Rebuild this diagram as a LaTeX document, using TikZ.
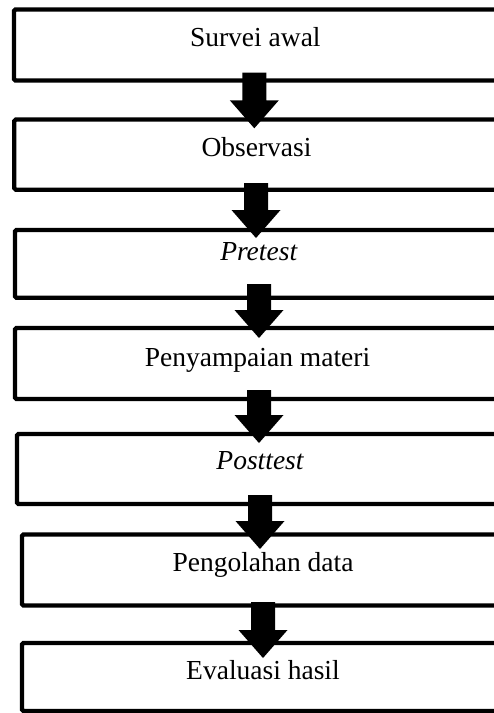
\documentclass[tikz,border=0pt]{standalone}
\usepackage{fontspec}
\setmainfont{Liberation Serif}
\usetikzlibrary{calc}
\newcommand\flowarrow[2]{%
  \fill let \p1=(#1), \p2=(#2) in
    (\x1-12pt,\y1) -- (\x1-12pt,\y2+28pt) -- (\x1-24.5pt,\y2+28pt) -- (\x1,\y2)
    -- (\x1+24.5pt,\y2+28pt) -- (\x1+12pt,\y2+28pt) -- (\x1+12pt,\y1) -- cycle;}
\begin{document}
\begin{tikzpicture}[x=1pt,y=-1pt,
  box/.style={draw, line width=4.3pt, rounded corners=1.5pt, outer sep=0pt,
    inner sep=0pt, anchor=north west, minimum width=520pt, minimum height=#1},
  lbl/.style={anchor=base, inner sep=0pt, font=\fontsize{27.5}{33}\selectfont}]
\useasboundingbox (0,0) rectangle (494,713);
\clip (0,0) rectangle (494,713);
% boxes
\node[box=71pt]   (b1) at (14,9.5) {};
\node[box=70.2pt] (b2) at (14.3,119.5) {};
\node[box=67.8pt] (b3) at (15,230) {};
\node[box=71pt]   (b4) at (15,328) {};
\node[box=70pt]   (b5) at (17,434) {};
\node[box=71pt]   (b6) at (22,534.5) {};
\node[box=68pt]   (b7) at (22,643) {};
% labels
\node[lbl] (t1) at (255.3,46.7) {Survei awal};
\node[lbl] (t2) at (256.5,156.7) {Observasi};
\node[lbl] (t3) at (258.7,260) {\itshape Pretest};
\node[lbl] (t4) at (257.5,366.7) {Penyampaian materi};
\node[lbl] (t5) at (260,469.3) {\itshape Posttest};
\node[lbl] (t6) at (263,571.7) {Pengolahan data};
\node[lbl] (t7) at (263,679.3) {Evaluasi hasil};
% arrow end points
\coordinate (a1s) at ($(b1.south west)+(240.3,-7.8)$);
\coordinate (a1e) at ($(b2.north west)+(240,8.8)$);
\coordinate (a2s) at ($(b2.south west)+(241.7,-6.7)$);
\coordinate (a2e) at ($(b3.north west)+(241,8)$);
\coordinate (a3s) at ($(b3.south west)+(244,-13.8)$);
\coordinate (a3e) at ($(b4.north west)+(244,10)$);
\coordinate (a4s) at ($(b4.south west)+(244,-9)$);
\coordinate (a4e) at ($(b5.north west)+(242,9)$);
\coordinate (a5s) at ($(b5.south west)+(243,-9)$);
\coordinate (a5e) at ($(b6.north west)+(238,14.5)$);
\coordinate (a6s) at ($(b6.south west)+(241,-3.5)$);
\coordinate (a6e) at ($(b7.north west)+(241,15)$);
\flowarrow{a1s}{a1e}
\flowarrow{a2s}{a2e}
\flowarrow{a3s}{a3e}
\flowarrow{a4s}{a4e}
\flowarrow{a5s}{a5e}
\flowarrow{a6s}{a6e}
\end{tikzpicture}
\end{document}
